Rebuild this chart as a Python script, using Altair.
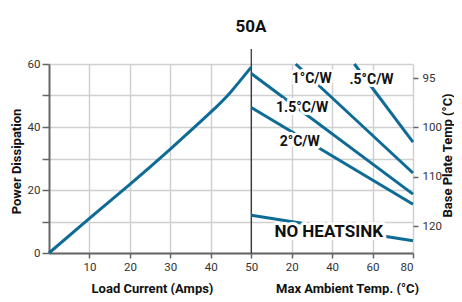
import altair as alt
import pandas as pd

# ---- data ----
load_current = [0, 10, 20, 30, 40, 45, 50]
power_dissipation = [0, 11, 21.8, 33, 44.7, 51.2, 59]

curve_names = [".5°C/W", "1°C/W", "1.5°C/W", "2°C/W", "NO HEATSINK"]
ambient_start = [51, 22, 0, 0, 0]
ambient_end = [80, 80, 80, 80, 80]
power_start = [60, 60, 57, 46.2, 12]
power_end = [35.2, 25.4, 18.7, 15.5, 3.9]

label_ambient = [59.5, 29.9, 25.2, 24, 38.3]
label_power = [54.9, 55.2, 46, 35.2, 6.7]

load_ticks = [10, 20, 30, 40, 50]
ambient_ticks = [20, 40, 60, 80]
power_ticks = [0, 10, 20, 30, 40, 50, 60]
base_plate_ticks = [95, 100, 110, 120]

# ---- tables ----
curve_df = pd.DataFrame({"load": load_current, "power": power_dissipation})
rows = []
for n, a0, a1, p0, p1 in zip(curve_names, ambient_start, ambient_end, power_start, power_end):
    rows.append({"name": n, "ambient": a0, "power": p0})
    rows.append({"name": n, "ambient": a1, "power": p1})
lines_df = pd.DataFrame(rows)
labels_df = pd.DataFrame({"name": curve_names, "ambient": label_ambient, "power": label_power})
bp_df = pd.DataFrame({"bp": base_plate_ticks})
divider_df = pd.DataFrame({"load": [50]})

W, H = 364, 189
FONT = "Roboto"
BLUE = "#0e6b96"

x_ticks = load_ticks + [50 + t / 2 for t in ambient_ticks]
xs = alt.Scale(domain=[0, 90], nice=False, zero=False)
ys = alt.Scale(domain=[0, 60], nice=False, zero=False)

curve = alt.Chart(curve_df).transform_calculate(u="datum.load").mark_line(
    color=BLUE, strokeWidth=3, interpolate="natural"
).encode(
    x=alt.X("u:Q", scale=xs, axis=alt.Axis(
        orient="bottom", values=x_ticks,
        labelExpr="datum.value <= 50 ? datum.label : format((datum.value - 50) * 2, 'd')",
        tickSize=5, labelPadding=3, grid=True,
        title="Load Current (Amps)", titleX=103, titleY=35, titleBaseline="middle",
        titleAlign="center")),
    y=alt.Y("power:Q", scale=ys, axis=alt.Axis(
        orient="left", values=power_ticks,
        labelExpr="datum.value % 20 == 0 ? datum.label : ''",
        tickSize=7, labelPadding=2, grid=True,
        title="Power Dissipation", titleAngle=270, titleX=-33, titleY=97,
        titleBaseline="middle", titleAlign="center")),
)

hs_lines = alt.Chart(lines_df).transform_calculate(u="50 + datum.ambient / 2").mark_line(
    color=BLUE, strokeWidth=3
).encode(
    x=alt.X("u:Q", scale=xs, axis=alt.Axis(
        orient="bottom", labels=False, ticks=False, domain=False, grid=False,
        title="Max Ambient Temp. (°C)", titleX=298, titleY=35, titleBaseline="middle",
        titleAlign="center")),
    y=alt.Y("power:Q", scale=ys, axis=None),
    detail="name:N",
)

halo = alt.Chart(labels_df).transform_calculate(u="50 + datum.ambient / 2").mark_text(
    font=FONT, fontWeight="bold", fill="white", stroke="white", strokeWidth=6,
    strokeJoin="round", baseline="middle", align="center"
).encode(
    x=alt.X("u:Q", scale=xs, axis=None),
    y=alt.Y("power:Q", scale=ys, axis=None),
    text="name:N",
    size=alt.condition(alt.datum.name == "NO HEATSINK", alt.value(17), alt.value(14)),
)
texts = alt.Chart(labels_df).transform_calculate(u="50 + datum.ambient / 2").mark_text(
    font=FONT, fontWeight="bold", color="#111", baseline="middle", align="center"
).encode(
    x=alt.X("u:Q", scale=xs, axis=None),
    y=alt.Y("power:Q", scale=ys, axis=None),
    text="name:N",
    size=alt.condition(alt.datum.name == "NO HEATSINK", alt.value(17), alt.value(14)),
)

divider = alt.Chart(divider_df).mark_rule(color="black", strokeWidth=1).encode(
    x=alt.X("load:Q", scale=xs, axis=None),
    y=alt.value(-15), y2=alt.value(H),
)

right_axis = alt.Chart(bp_df).mark_point(opacity=0).encode(
    y=alt.Y("bp:Q", scale=alt.Scale(domain=[93.57, 95, 100, 125.45], range=[0, 14, 63, 189],
                                    nice=False, zero=False),
            axis=alt.Axis(orient="right", values=base_plate_ticks, grid=False, domain=False,
                          tickSize=5, labelPadding=4,
                          title="Base Plate Temp (°C)", titleAngle=270, titleX=34, titleY=91,
                          titleBaseline="middle", titleAlign="center")),
)

chart = alt.layer(divider, curve, hs_lines, halo, texts, right_axis).resolve_scale(
    x="independent", y="independent"
).resolve_axis(x="independent", y="independent").properties(
    width=W, height=H,
    autosize=alt.AutoSizeParams(type="none"),
    padding={"left": 41, "top": 56, "right": 41, "bottom": 42},
    title=alt.TitleParams("50A", font=FONT, fontSize=17, fontWeight="bold", color="#111",
                          anchor="middle", frame="group", dx=20, offset=13),
).configure_view(stroke=None).configure_axis(
    labelFont=FONT, labelFontSize=11.5, labelColor="#333",
    titleFont=FONT, titleFontSize=13, titleFontWeight="bold", titleColor="#111",
    gridColor="#d0d0d0", gridWidth=1.5,
    domainColor="#666", domainWidth=2, tickColor="#666", tickWidth=1.5,
)

chart.save("out.html", embed_options={"renderer": "svg", "actions": False})
